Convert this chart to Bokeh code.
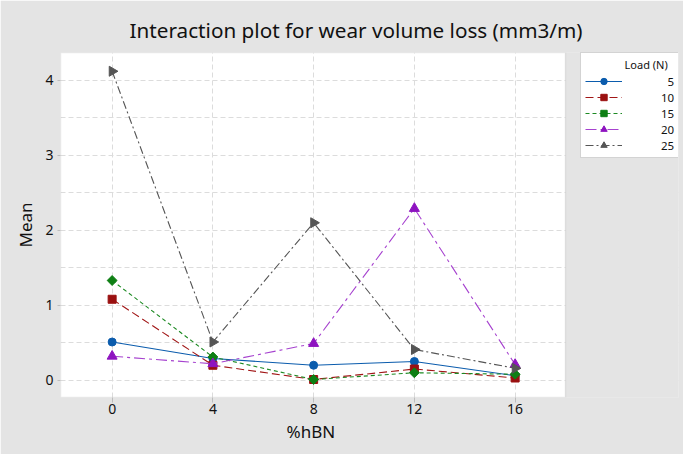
import math
from bokeh.plotting import figure
from bokeh.models import Legend, LegendItem, FixedTicker, Range1d, Title, BoxAnnotation
from bokeh.embed import file_html
from bokeh.resources import INLINE

# ---- data ----
hbn = [0, 4, 8, 12, 16]
load_labels = ["5", "10", "15", "20", "25"]
load5 = [0.51, 0.29, 0.20, 0.25, 0.06]
load10 = [1.08, 0.20, 0.01, 0.15, 0.03]
load15 = [1.33, 0.31, 0.01, 0.10, 0.08]
load20 = [0.32, 0.22, 0.49, 2.29, 0.21]
load25 = [4.12, 0.51, 2.10, 0.41, 0.16]
x_ticks = [0, 4, 8, 12, 16]
y_ticks = [0, 1, 2, 3, 4]

FONT = "Noto Sans"
BG = "#e4e4e4"
WHITE = "white"
EDGE = "#bdbdbd"
FSP = "\u2007"  # figure space (digit width) for right-aligned legend text

# plot-area extents (data units) and the wider frame that also holds the legend
X0, X1 = -2.05, 18.0
Y0, Y1 = -0.23, 4.37
PLOT_W = 505
FRAME_W = 618
X_FRAME_END = X0 + (X1 - X0) * FRAME_W / PLOT_W

p = figure(width=683, height=454, output_backend="svg", toolbar_location=None,
           x_range=Range1d(X0, X_FRAME_END), y_range=Range1d(Y0, Y1),
           min_border_left=60, min_border_right=683 - 60 - FRAME_W,
           min_border_top=52, min_border_bottom=57)
p.background_fill_color = BG
p.border_fill_color = BG
p.outline_line_color = None

# white plotting area (under the grid), grey cover right of it, outline on top
p.add_layout(BoxAnnotation(left=X0, right=X1, bottom=Y0, top=Y1, fill_color=WHITE,
                           fill_alpha=1.0, line_color=None, level="image"))
p.add_layout(BoxAnnotation(left=X1, right=X_FRAME_END, bottom=Y0, top=Y1, fill_color=BG,
                           fill_alpha=1.0, line_color=None, level="glyph"))
p.add_layout(BoxAnnotation(left=X0, right=X1, bottom=Y0, top=Y1, fill_color=None,
                           fill_alpha=0.0, line_color=EDGE, line_width=1.5, level="overlay"))

p.title = Title(text="Interaction plot for wear volume loss (mm3/m)", align="left",
                offset=69, text_font=FONT, text_font_size="20.7px", text_font_style="normal",
                text_color="#111111", standoff=18)

# axes
p.xaxis.ticker = FixedTicker(ticks=x_ticks)
p.yaxis.ticker = FixedTicker(ticks=y_ticks, minor_ticks=[0.5, 1.5, 2.5, 3.5])
for ax in (p.xaxis, p.yaxis):
    ax.axis_line_color = None
    ax.major_tick_line_color = EDGE
    ax.major_tick_in = 0
    ax.minor_tick_line_color = None
    ax.major_label_text_font = FONT
    ax.major_label_text_font_size = "14px"
    ax.major_label_text_color = "#111111"
    ax.axis_label_text_font = FONT
    ax.axis_label_text_font_size = "17px"
    ax.axis_label_text_font_style = "normal"
    ax.axis_label_text_color = "#111111"
p.xaxis.major_tick_out = 5
p.yaxis.major_tick_out = 3
p.xaxis.major_label_standoff = 1
p.yaxis.major_label_standoff = 3
p.yaxis.axis_label = "Mean"
p.yaxis.axis_label_standoff = 5

# x-axis title, centred under the plotting area (not under the wider frame)
p.add_layout(Title(text="%hBN", align="left", offset=226, text_font=FONT,
                   text_font_size="17px", text_font_style="normal",
                   text_color="#111111", standoff=3), "below")

# grids
for g in (p.xgrid, p.ygrid):
    g.grid_line_color = "#dcdcdc"
    g.grid_line_dash = "5 3"
p.ygrid.minor_grid_line_color = "#dcdcdc"
p.ygrid.minor_grid_line_dash = "5 3"

series = [
    (load5, "#0b5cad", "#0b5cad", "solid", "circle", 8, 0),
    (load10, "#a11616", "#9a1010", "8 4", "square", 8, 0),
    (load15, "#1c8a22", "#0e7f14", "4 3", "square", 7, math.pi / 4),
    (load20, "#a642cf", "#8e13c0", "11 4 3 4", "triangle", 10, 0),
    (load25, "#555555", "#555555", "8 3 2 3", "triangle", 10, -math.pi / 2),
]

items = []
for (vals, lc, mc, dash, mk, sz, ang), lab in zip(series, load_labels):
    r1 = p.line(hbn, vals, line_color=lc, line_width=1.1, line_dash=dash)
    r2 = p.scatter(hbn, vals, marker=mk, size=sz, fill_color=mc, line_color=mc, angle=ang)
    padded = FSP * (2 - len(lab)) + lab
    items.append(LegendItem(label=padded, renderers=[r1, r2]))

legend = Legend(items=items, location=(520, 239), orientation="vertical",
                title=FSP * 6 + "\u2009" + "Load (N)", title_text_font=FONT,
                title_text_font_size="11px",
                title_text_font_style="normal", title_text_color="#111111",
                title_standoff=1,
                label_text_font=FONT, label_text_font_size="11.5px", label_text_color="#111111",
                padding=4, spacing=0, glyph_width=37, glyph_height=16, label_height=16,
                label_standoff=39, label_width=10,
                border_line_color="#a8a8a8", border_line_width=1,
                background_fill_color="white", background_fill_alpha=1.0, margin=0)
p.add_layout(legend, "center")

open("out.html", "w").write(file_html(p, INLINE))
